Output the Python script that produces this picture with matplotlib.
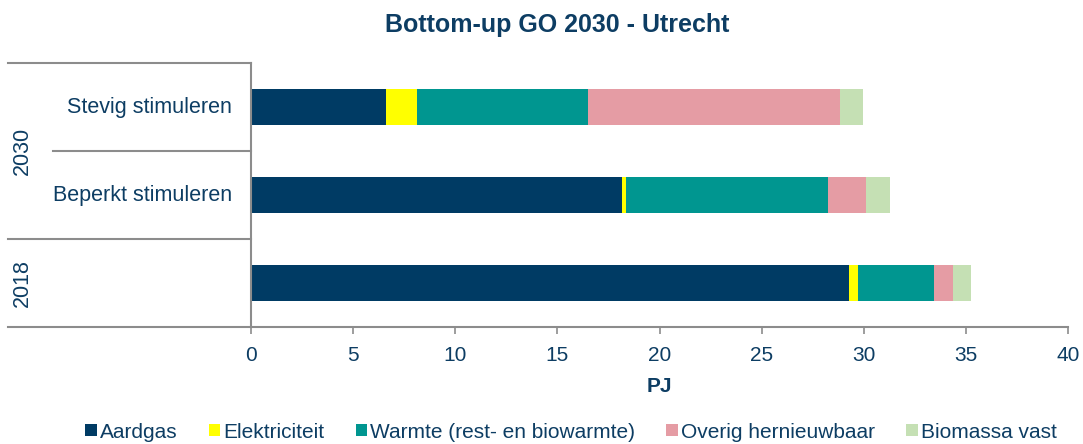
import matplotlib
matplotlib.use("Agg")
import matplotlib.pyplot as plt
from matplotlib.lines import Line2D
from matplotlib.patches import Patch
import matplotlib.transforms as mtransforms
import numpy as np

plt.rcParams['font.family'] = ['Liberation Sans', 'DejaVu Sans']

categories = ["2018", "Beperkt stimuleren", "Stevig stimuleren"]
series_names = ["Aardgas", "Elektriciteit", "Warmte (rest- en biowarmte)",
                "Overig hernieuwbaar", "Biomassa vast"]
aardgas = [29.30, 18.14, 6.60]
elektriciteit = [0.40, 0.23, 1.55]
warmte = [3.76, 9.89, 8.34]
overig = [0.92, 1.86, 12.36]
biomassa = [0.86, 1.16, 1.09]
colors = ["#003B64", "#FFFF00", "#009690", "#E59CA4", "#C5E0B4"]
xticks = [0, 5, 10, 15, 20, 25, 30, 35, 40]

txt = "#0D3D63"
axc = "#8C8C8C"

W, H = 1083, 444
fig = plt.figure(figsize=(W/100, H/100), dpi=100)
ax = fig.add_axes([251/W, (H-327)/H, (1068-251)/W, (327-63)/H])

y = np.arange(len(categories))
left = np.zeros(len(categories))
for vals, c, name in zip([aardgas, elektriciteit, warmte, overig, biomassa], colors, series_names):
    ax.barh(y, vals, left=left, height=0.4, color=c, label=name)
    left += np.array(vals)

ax.set_xlim(0, 40)
ax.set_ylim(-0.5, 2.5)
ax.set_xticks(xticks)
ax.set_xticklabels([str(t) for t in xticks], fontsize=15, color=txt)
ax.tick_params(axis='x', length=5, color=axc, width=1.2, pad=9)
ax.set_yticks([])
for s in ['top', 'right']:
    ax.spines[s].set_visible(False)
for s in ['left', 'bottom']:
    ax.spines[s].set_color(axc)
    ax.spines[s].set_linewidth(1.5)
ax.set_xlabel("PJ", fontsize=15, fontweight='bold', color=txt, labelpad=8)

# multi-level category axis
tr = mtransforms.blended_transform_factory(fig.transFigure, ax.transData)
for yy, x0 in [(2.5, 8), (1.5, 53), (0.5, 8), (-0.5, 8)]:
    fig.add_artist(Line2D([x0/W, 251/W], [yy, yy], transform=tr, color=axc, lw=1.5))
trA = mtransforms.blended_transform_factory(ax.transAxes, ax.transData)
ax.text(-19/(1068-251), 2, categories[2], transform=trA,
        ha='right', va='center', fontsize=15.5, color=txt)
ax.text(-19/(1068-251), 1, categories[1], transform=trA,
        ha='right', va='center', fontsize=15.5, color=txt)
fig.text(22/W, 1.5, "2030", transform=tr, rotation=90, ha='center', va='center', fontsize=15.5, color=txt)
fig.text(22/W, 0.0, "2018", transform=tr, rotation=90, ha='center', va='center', fontsize=15.5, color=txt)

fig.text(557/W, 1 - 25/H, "Bottom-up GO 2030 - Utrecht", ha='center', va='center',
         fontsize=18, fontweight='bold', color=txt)

handles = [Patch(facecolor=c, edgecolor='none') for c in colors]
leg = fig.legend(handles, series_names, loc='center', bbox_to_anchor=(571/W, 1 - 432/H), ncol=5,
                 frameon=False, fontsize=15, handlelength=0.55, handleheight=0.55,
                 handletextpad=0.15, columnspacing=1.5, borderpad=0)
for t in leg.get_texts():
    t.set_color(txt)

fig.savefig("out.png", dpi=100)
